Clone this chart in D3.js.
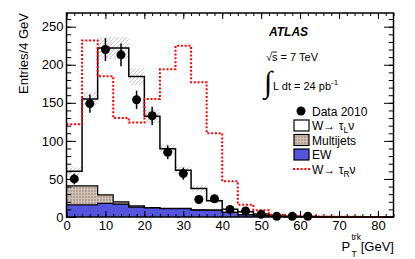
<!DOCTYPE html>
<html>
<head>
<meta charset="utf-8">
<script src="https://cdn.jsdelivr.net/npm/d3@7"></script>
<style>
body{margin:0;background:#fff}
svg{display:block;font-family:"Liberation Sans",Arial,sans-serif}
</style>
</head>
<body>
<svg id="chart" width="415" height="259"></svg>
<script>
// 4 GeV bins in track pT (lower edges), 0..84 GeV
var binLow = [0,4,8,12,16,20,24,28,32,36,40,44,48,52,56,60,64,68,72,76,80];
var binWidth = 4;
// Data 2010 (only non-empty bins)
var dataCounts = [50,149,220,213,154,133,85,57,23,24,10,8,3.5,1,1,1];
var dataErr    = [7,12,15,15,12,12,9,8,5,5,3,3,2,1,1,1];
// stacked MC
var ewVals  = [16,16,18,17,13,12,11,11,9,9,6,3,2,1,0.5,0.3,0.2,0.1,0.1,0,0];
var mjVals  = [25,25,11,3,1.5,0.5,0.5,0.3,0.3,0.2,0.1,0,0,0,0,0,0,0,0,0,0];
var wLVals  = [19,114,193,202,170,120,78,50,28,12,4,4,2,1,0.5,0.2,0.1,0.1,0,0,0];
var bandErr = [5,9,14,14,11,9,6,5,4,3,2,1.5,1,0.5,0.3,0,0,0,0,0,0];
// W -> tau_R nu
var wRVals  = [122,232,185,130,124,155,194,225,177,110,47,16,9,3,1.5,1,0.5,0.3,0.2,0.1,0];
var xTicks = [0,10,20,30,40,50,60,70,80];
var yTicks = [0,50,100,150,200,250];

var svg = d3.select("#chart");
var L = 66.5, R = 393.5, T = 13, B = 217;
var x = d3.scaleLinear().domain([0,84]).range([L,R]);
var y = d3.scaleLinear().domain([0,268]).range([B,T]);

var defs = svg.append("defs");
var hatch = defs.append("pattern").attr("id","hatch").attr("patternUnits","userSpaceOnUse")
  .attr("width",4).attr("height",4);
hatch.append("path").attr("d","M-1,1 l2,-2 M0,4 l4,-4 M3,5 l2,-2")
  .attr("stroke","#cdbfc7").attr("stroke-width",0.9);
var grid = defs.append("pattern").attr("id","mjgrid").attr("patternUnits","userSpaceOnUse")
  .attr("width",3).attr("height",3);
grid.append("rect").attr("width",3).attr("height",3).attr("fill","#b3a294");
grid.append("path").attr("d","M0,0.5 h3 M0.5,0 v3").attr("stroke","#d5c9be").attr("stroke-width",0.8);

// table for the stack (last edge repeated for the step curve)
var rows = binLow.map(function(b,i){
  return {lo:b, ew:ewVals[i], mj:mjVals[i], wl:wLVals[i], wr:wRVals[i], band:bandErr[i]};
});
rows.push(Object.assign({}, rows[rows.length-1], {lo:84}));

var stack = d3.stack().keys(["ew","mj","wl"])(rows);
var area = d3.area().curve(d3.curveStepAfter)
  .x(function(d){return x(d.data.lo);})
  .y0(function(d){return y(d[0]);})
  .y1(function(d){return y(d[1]);});
var topLine = d3.line().curve(d3.curveStepAfter)
  .x(function(d){return x(d.data.lo);})
  .y(function(d){return y(d[1]);});
var fills = {ew:"#5454dc", mj:"url(#mjgrid)", wl:"#fff"};

svg.selectAll("path.stk").data(stack).enter().append("path")
  .attr("class","stk").attr("d",area)
  .attr("fill",function(s){return fills[s.key];});

// uncertainty band on total
var band = d3.area().curve(d3.curveStepAfter)
  .x(function(d){return x(d.lo);})
  .y0(function(d){return y(Math.max(0,d.ew+d.mj+d.wl-d.band));})
  .y1(function(d){return y(d.ew+d.mj+d.wl+d.band);});
svg.append("path").attr("d",band(rows)).attr("fill","url(#hatch)");

svg.selectAll("path.stkline").data(stack).enter().append("path")
  .attr("class","stkline").attr("d",topLine)
  .attr("fill","none").attr("stroke","#000")
  .attr("stroke-width",function(s){return s.key=="wl"?1.5:1.2;});

// W -> tau_R nu
var redLine = d3.line().curve(d3.curveStepAfter)
  .x(function(d){return x(d.lo);})
  .y(function(d){return y(d.wr);});
svg.append("path").attr("d",redLine(rows)).attr("fill","none")
  .attr("stroke","#ff0000").attr("stroke-width",2).attr("stroke-dasharray","2,1.8");

// axes (ticks inward, mirrored)
function minorVals(step, max){ var a=[]; for(var v=0; v<=max+1e-9; v+=step) a.push(+v.toFixed(3)); return a; }
function styleAxis(g){
  g.select(".domain").remove();
  g.selectAll("line").attr("stroke","#000").attr("stroke-width",1);
  g.selectAll("text").attr("font-family","'Liberation Sans',Arial,sans-serif").attr("font-size",13).attr("fill","#000");
}
var xMinor = minorVals(2,84), yMinor = minorVals(10,268);
svg.append("g").attr("transform","translate(0,"+B+")")
  .call(d3.axisBottom(x).tickValues(xMinor).tickFormat("").tickSize(-3)).call(styleAxis);
svg.append("g").attr("transform","translate(0,"+B+")")
  .call(d3.axisBottom(x).tickValues(xTicks).tickSize(-6).tickPadding(4)).call(styleAxis);
svg.append("g").attr("transform","translate(0,"+T+")")
  .call(d3.axisTop(x).tickValues(xMinor).tickFormat("").tickSize(-3)).call(styleAxis);
svg.append("g").attr("transform","translate(0,"+T+")")
  .call(d3.axisTop(x).tickValues(xTicks).tickFormat("").tickSize(-6)).call(styleAxis);
svg.append("g").attr("transform","translate("+L+",0)")
  .call(d3.axisLeft(y).tickValues(yMinor).tickFormat("").tickSize(-4.75)).call(styleAxis);
svg.append("g").attr("transform","translate("+L+",0)")
  .call(d3.axisLeft(y).tickValues(yTicks).tickSize(-9.5).tickPadding(3)).call(styleAxis);
svg.append("g").attr("transform","translate("+R+",0)")
  .call(d3.axisRight(y).tickValues(yMinor).tickFormat("").tickSize(-4.75)).call(styleAxis);
svg.append("g").attr("transform","translate("+R+",0)")
  .call(d3.axisRight(y).tickValues(yTicks).tickFormat("").tickSize(-9.5)).call(styleAxis);

// data points
var pts = svg.append("g");
pts.selectAll("line").data(dataCounts).enter().append("line")
  .attr("x1",function(d,i){return x(binLow[i]+binWidth/2);})
  .attr("x2",function(d,i){return x(binLow[i]+binWidth/2);})
  .attr("y1",function(d,i){return y(d-dataErr[i]);})
  .attr("y2",function(d,i){return y(d+dataErr[i]);})
  .attr("stroke","#000").attr("stroke-width",1.5);
pts.selectAll("circle").data(dataCounts).enter().append("circle")
  .attr("cx",function(d,i){return x(binLow[i]+binWidth/2);})
  .attr("cy",function(d){return y(d);})
  .attr("r",4.5).attr("fill","#000");

// frame
svg.append("rect").attr("x",L).attr("y",T).attr("width",R-L).attr("height",B-T)
  .attr("fill","none").attr("stroke","#000").attr("stroke-width",1.5);

// axis titles
svg.append("text").attr("transform","translate(28,13) rotate(-90)")
  .attr("text-anchor","end").attr("font-size",13).text("Entries/4 GeV");
svg.append("text").attr("x",341.5).attr("y",251).attr("font-size",13).text("P");
svg.append("text").attr("x",351.5).attr("y",240).attr("font-size",8.5).text("trk");
svg.append("text").attr("x",351.5).attr("y",256.5).attr("font-size",8.5).text("T");
svg.append("text").attr("x",394).attr("y",251).attr("text-anchor","end").attr("font-size",13).text("[GeV]");

// labels
svg.append("text").attr("x",269).attr("y",36).attr("font-size",12)
  .attr("font-weight","bold").attr("font-style","italic").text("ATLAS");
svg.append("text").attr("x",266).attr("y",61).attr("font-size",11).text("\u221As = 7 TeV");
svg.append("line").attr("x1",271.5).attr("x2",277).attr("y1",52).attr("y2",52).attr("stroke","#000").attr("stroke-width",0.8);
svg.append("text").attr("x",264).attr("y",92).attr("font-size",30).attr("font-family","'DejaVu Sans'").attr("font-weight","lighter").text("\u222B");
var lum = svg.append("text").attr("x",273).attr("y",90).attr("font-size",11);
lum.append("tspan").text("L dt = 24 pb");
lum.append("tspan").attr("font-size",8).attr("dy",-5).text("-1");

// legend
var leg = svg.append("g").attr("font-size",12);
var legY = [111,125.5,140,154.5,169];
leg.append("circle").attr("cx",301).attr("cy",legY[0]).attr("r",4.5).attr("fill","#000");
leg.append("rect").attr("x",294).attr("y",legY[1]-5.5).attr("width",15).attr("height",11)
  .attr("fill","#fff").attr("stroke","#000").attr("stroke-width",1.2);
leg.append("rect").attr("x",294).attr("y",legY[2]-5.5).attr("width",15).attr("height",11)
  .attr("fill","url(#mjgrid)").attr("stroke","#000").attr("stroke-width",1.2);
leg.append("rect").attr("x",294).attr("y",legY[3]-5.5).attr("width",15).attr("height",11)
  .attr("fill","#5454dc").attr("stroke","#000").attr("stroke-width",1.2);
leg.append("line").attr("x1",293).attr("x2",310).attr("y1",legY[4]).attr("y2",legY[4])
  .attr("stroke","#ff0000").attr("stroke-width",2).attr("stroke-dasharray","2,1.8");
function legText(i, parts){
  var t = leg.append("text").attr("x",312).attr("y",legY[i]+4.5);
  parts.forEach(function(p){
    var s = t.append("tspan").text(p[0]);
    if(p[1]=="sub") s.attr("font-size",8.5).attr("dy",3);
    if(p[1]=="back") s.attr("dy",-3);
  });
}
legText(0,[["Data 2010"]]);
legText(1,[["W\u2192 \u03C4"],["L","sub"],["\u03BD","back"]]);
legText(2,[["Multijets"]]);
legText(3,[["EW"]]);
legText(4,[["W\u2192 \u03C4"],["R","sub"],["\u03BD","back"]]);
</script>
</body>
</html>
